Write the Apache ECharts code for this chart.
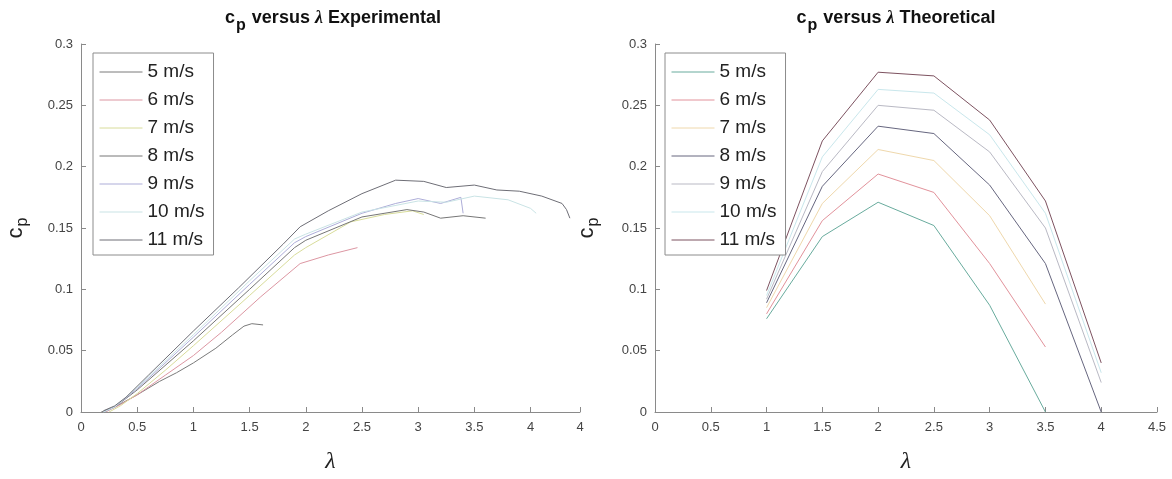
<!DOCTYPE html>
<html>
<head>
<meta charset="utf-8">
<script src="https://cdn.jsdelivr.net/npm/echarts@6/dist/echarts.min.js"></script>
<style>
html, body { margin: 0; padding: 0; background: #fff; }
#chart { width: 1172px; height: 479px; }
</style>
</head>
<body>
<div id="chart"></div>
<script>
// wind speeds (legend)
var speeds = ['5 m/s', '6 m/s', '7 m/s', '8 m/s', '9 m/s', '10 m/s', '11 m/s'];

// experimental curves, [lambda, cp]
var exp5 = [[0.18, 0], [0.3, 0.004], [0.5, 0.014], [0.7, 0.025], [0.85, 0.032], [1.0, 0.04], [1.2, 0.052], [1.35, 0.063], [1.45, 0.07], [1.52, 0.072], [1.62, 0.071]];
var exp6 = [[0.22, 0], [0.35, 0.006], [0.5, 0.014], [0.75, 0.03], [1.0, 0.046], [1.25, 0.065], [1.6, 0.094], [1.95, 0.121], [2.2, 0.128], [2.46, 0.134]];
var exp7 = [[0.25, 0], [0.35, 0.005], [0.5, 0.015], [0.75, 0.034], [1.0, 0.054], [1.5, 0.095], [1.9, 0.128], [2.0, 0.134], [2.4, 0.155], [2.7, 0.161], [2.95, 0.164], [3.05, 0.161]];
var exp8 = [[0.2, 0], [0.3, 0.004], [0.5, 0.018], [1.0, 0.058], [1.5, 0.1], [1.9, 0.134], [2.0, 0.14], [2.5, 0.159], [2.9, 0.165], [3.05, 0.163], [3.2, 0.158], [3.4, 0.16], [3.6, 0.158]];
var exp9 = [[0.2, 0], [0.3, 0.004], [0.5, 0.019], [1.0, 0.061], [1.5, 0.104], [1.9, 0.138], [2.0, 0.143], [2.5, 0.162], [2.8, 0.17], [3.0, 0.174], [3.2, 0.17], [3.38, 0.175], [3.4, 0.162]];
var exp10 = [[0.2, 0], [0.3, 0.004], [0.5, 0.02], [1.0, 0.063], [1.5, 0.107], [1.9, 0.141], [2.0, 0.145], [2.5, 0.163], [3.0, 0.172], [3.25, 0.171], [3.5, 0.176], [3.8, 0.173], [4.0, 0.166], [4.05, 0.162]];
var exp11 = [[0.2, 0.001], [0.3, 0.005], [0.4, 0.012], [0.6, 0.03], [0.8, 0.048], [1.0, 0.066], [1.4, 0.101], [1.8, 0.137], [1.95, 0.151], [2.2, 0.164], [2.5, 0.178], [2.8, 0.189], [3.05, 0.188], [3.25, 0.183], [3.5, 0.185], [3.7, 0.181], [3.9, 0.18], [4.1, 0.176], [4.28, 0.17], [4.32, 0.165], [4.35, 0.158]];

// theoretical curves
var thLambda = [1, 1.5, 2, 2.5, 3, 3.5, 4];
var th5 = [0.076, 0.143, 0.171, 0.152, 0.087, 0.0];
var th6 = [0.080, 0.156, 0.194, 0.179, 0.121, 0.053];
var th7 = [0.085, 0.170, 0.214, 0.205, 0.160, 0.088];
var th8 = [0.089, 0.184, 0.233, 0.227, 0.185, 0.121, 0.0];
var th9 = [0.092, 0.196, 0.250, 0.246, 0.212, 0.150, 0.024];
var th10 = [0.095, 0.208, 0.263, 0.260, 0.226, 0.162, 0.032];
var th11 = [0.099, 0.221, 0.277, 0.274, 0.238, 0.172, 0.040];

var expColors = ['#7a7a7a', '#dc96a2', '#d8dc9a', '#767676', '#adadd8', '#c9e3e5', '#6e6e76'];
var thColors = ['#68ab9d', '#e2929b', '#efd8ac', '#66667f', '#b9b9c4', '#c9e7ec', '#7d5260'];

var expData = [exp5, exp6, exp7, exp8, exp9, exp10, exp11];
var thData = [th5, th6, th7, th8, th9, th10, th11].map(function (ys) {
    return ys.map(function (y, i) { return [thLambda[i], y]; });
});

var font = 'Liberation Sans, Arial, sans-serif';

function titleRich() {
    return {
        b: { fontSize: 18, fontWeight: 'bold', fontFamily: font, color: '#111' },
        s: { fontSize: 16, fontWeight: 'bold', fontFamily: font, color: '#111', padding: [16, 1, 0, 1] },
        l: { fontSize: 18, fontStyle: 'italic', fontFamily: 'Liberation Serif, serif', color: '#111' }
    };
}

function xAx(idx, max) {
    return {
        type: 'value', gridIndex: idx, min: 0, max: max, interval: 0.5,
        name: 'λ', nameLocation: 'middle', nameGap: 38,
        nameTextStyle: { fontSize: 24, fontStyle: 'italic', fontFamily: 'Liberation Serif, serif', color: '#222' },
        axisLine: { lineStyle: { color: '#8a8a8a' } },
        axisTick: { inside: true, length: 5, lineStyle: { color: '#8a8a8a' } },
        axisLabel: {
            color: '#444', fontSize: 13, fontFamily: font, margin: 9,
            // the cropped last label of the left panel shows only "4"
            formatter: function (v) { return (Math.round(v * 2) === v * 2) ? String(v) : '4'; }
        },
        splitLine: { show: false }
    };
}

function yAx(idx, gap) {
    return {
        type: 'value', gridIndex: idx, min: 0, max: 0.3, interval: 0.05,
        name: '{c|c}{s|p}', nameLocation: 'middle', nameGap: gap, nameRotate: 90,
        nameTextStyle: {
            rich: {
                c: { fontSize: 22, fontFamily: font, color: '#222' },
                s: { fontSize: 16, fontFamily: font, color: '#222', padding: [14, 0, 0, 1] }
            }
        },
        axisLine: { show: true, lineStyle: { color: '#8a8a8a' } },
        axisTick: { show: true, inside: true, length: 5, lineStyle: { color: '#8a8a8a' } },
        axisLabel: { color: '#444', fontSize: 13, fontFamily: font, margin: 8 },
        splitLine: { show: false }
    };
}

function legendFor(left, colors) {
    return {
        left: left, top: 53, orient: 'vertical',
        itemWidth: 43, itemHeight: 14, itemGap: 8,
        padding: [9, 9, 5, 6],
        borderColor: '#8c8c8c', borderWidth: 1, backgroundColor: '#fff',
        textStyle: { fontSize: 19, lineHeight: 20, fontFamily: font, color: '#222' },
        data: speeds.map(function (s, i) {
            return { name: s, lineStyle: { color: colors[i], width: 1 }, itemStyle: { opacity: 0 } };
        })
    };
}

var series = [];
speeds.forEach(function (s, i) {
    series.push({
        name: s, type: 'line', xAxisIndex: 0, yAxisIndex: 0, data: expData[i],
        symbol: 'none', color: expColors[i], lineStyle: { width: 1, color: expColors[i] }, animation: false
    });
});
speeds.forEach(function (s, i) {
    series.push({
        name: s, type: 'line', xAxisIndex: 1, yAxisIndex: 1, data: thData[i],
        symbol: 'none', color: thColors[i], lineStyle: { width: 1, color: thColors[i] }, animation: false
    });
});

var chart = echarts.init(document.getElementById('chart'));
chart.setOption({
    backgroundColor: '#fff',
    animation: false,
    title: [
        { text: '{b|c}{s|p}{b| versus }{l|λ}{b| Experimental}', left: 333, top: 2, textAlign: 'center', padding: 0, textStyle: { rich: titleRich() } },
        { text: '{b|c}{s|p}{b| versus }{l|λ}{b| Theoretical}', left: 896, top: 2, textAlign: 'center', padding: 0, textStyle: { rich: titleRich() } }
    ],
    grid: [
        { left: 81, top: 44, width: 499, height: 376, containLabel: false },
        { left: 655, top: 44, width: 502, height: 376, containLabel: false }
    ],
    xAxis: [xAx(0, 4.44), xAx(1, 4.5)],
    yAxis: [yAx(0, 50), yAx(1, 53)],
    legend: [legendFor(93, expColors), legendFor(665, thColors)],
    series: series
});
</script>
</body>
</html>
